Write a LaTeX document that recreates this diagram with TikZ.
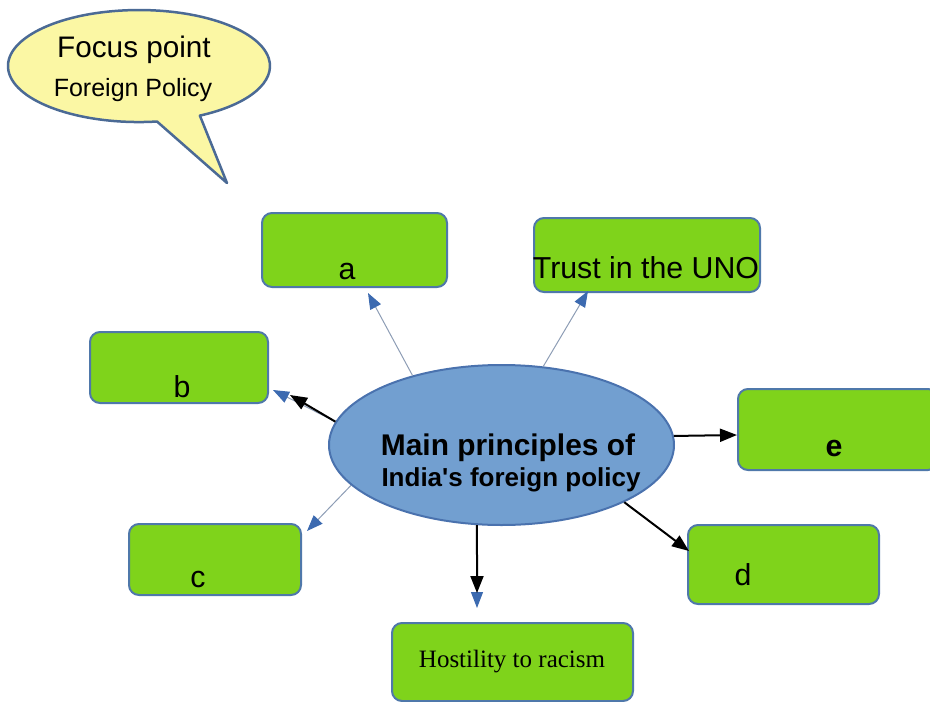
\documentclass[tikz,border=0pt]{standalone}
\usepackage{fontspec}
\setmainfont{Liberation Sans}
\newfontfamily\timesfont{Liberation Serif}
\usetikzlibrary{arrows.meta,shapes.geometric}

\definecolor{boxgreen}{HTML}{7FD31B}
\definecolor{boxedge}{HTML}{4F78AA}
\definecolor{hubfill}{HTML}{729FD0}
\definecolor{hubedge}{HTML}{4A72AE}
\definecolor{bubblefill}{HTML}{FBF7A4}
\definecolor{bubbleedge}{HTML}{4B6A95}
\definecolor{thinline}{HTML}{8D9DB5}
\definecolor{tipblue}{HTML}{3C6AB0}

\tikzset{
  greenbox/.style={draw=boxedge, fill=boxgreen, line width=2pt, rounded corners=10pt,
    inner sep=0pt},
  boxtext/.style={anchor=base, inner sep=0pt, font=\fontsize{30.3}{35}\selectfont},
  bluelink/.style={draw=thinline, line width=1pt,
    -{Triangle[width=12pt,length=16pt,color=tipblue]}},
  blacklink/.style={draw=black, line width=2pt,
    -{Triangle[width=13pt,length=17pt]}},
}

\begin{document}
\begin{tikzpicture}[x=1pt,y=-1pt]
\useasboundingbox (0,0) rectangle (930,702);
\clip (0,0) rectangle (930,702);

% speech bubble
\draw[fill=bubblefill, draw=bubbleedge, line width=2.5pt, line join=round]
  (157,121.5) arc[start angle=82.1, end angle=422.3, x radius=131, y radius=56]
  -- (227,183) -- cycle;
\node[anchor=base, inner sep=0pt, font=\fontsize{29.7}{34}\selectfont] (focus) at (134,57) {Focus point};
\node[anchor=base, inner sep=0pt, font=\fontsize{25}{29}\selectfont] (fpolicy) at (133,96) {Foreign Policy};

% outer boxes
\node[greenbox, minimum width=185pt, minimum height=74pt] (a) at (354.5,250) {};
\node[greenbox, minimum width=226pt, minimum height=74pt] (uno) at (647,255) {};
\node[greenbox, minimum width=178pt, minimum height=71pt] (b) at (179,367.5) {};
\node[greenbox, minimum width=200pt, minimum height=81pt] (e) at (838,429.5) {};
\node[greenbox, minimum width=172pt, minimum height=71pt] (c) at (215,559.5) {};
\node[greenbox, minimum width=191pt, minimum height=79pt] (d) at (783.5,564.5) {};
\node[greenbox, minimum width=241pt, minimum height=78pt] (h) at (512.5,662) {};

\node[boxtext] (la) at (347,279) {a};
\node[boxtext] (luno) at (646,278) {Trust in the UNO};
\node[boxtext] (lb) at (182,397) {b};
\node[boxtext, font=\fontsize{30.3}{35}\selectfont\bfseries] (le) at (834,456) {e};
\node[boxtext] (lc) at (198,587) {c};
\node[boxtext] (ld) at (743,585) {d};
\node[anchor=base, inner sep=0pt, font=\timesfont\fontsize{25}{29}\selectfont] (lh) at (512,667) {Hostility to racism};

% central ellipse
\node[ellipse, draw=hubedge, fill=hubfill, line width=2pt, minimum width=345pt,
  minimum height=160pt, inner sep=0pt] (main) at (501.5,445) {};
\node[anchor=base, inner sep=0pt, font=\fontsize{29.9}{34}\selectfont\bfseries] (m1) at (508,455) {Main principles of};
\node[anchor=base, inner sep=0pt, font=\fontsize{26}{30}\selectfont\bfseries] (m2) at (511,486) {India\textquotesingle s foreign policy};

% free ends of the connectors
\coordinate (ta) at (368,293);
\coordinate (tuno) at (588,291);
\coordinate (tbblue) at (273,390);
\coordinate (tb) at (290,395);
\coordinate (tc) at (307,531);
\coordinate (thblue) at (477,608);
\coordinate (th) at (477,593);
\coordinate (td) at (689,551);
\coordinate (te) at (737,435);

% connectors
\draw[bluelink] (main.142.5) -- (ta);
\draw[bluelink] (main.62.6) -- (tuno);
\draw[bluelink] (main.172) -- (tbblue);
\draw[blacklink] (main.172) -- (tb);
\draw[bluelink] (main.195.4) -- (tc);
\draw[bluelink] (main.-107.6) -- (thblue);
\draw[blacklink] (main.-107.6) -- (th);
\draw[blacklink] (main.-25.5) -- (td);
\draw[blacklink] (main.3.4) -- (te);
\end{tikzpicture}
\end{document}
